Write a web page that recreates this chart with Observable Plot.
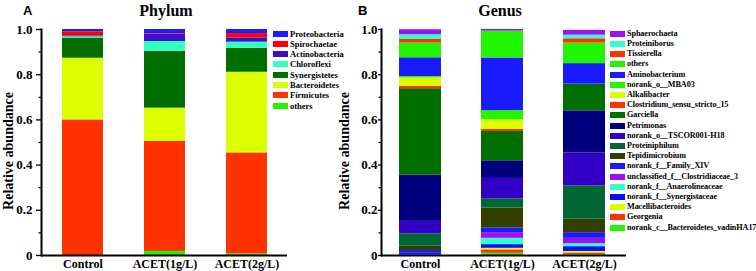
<!DOCTYPE html>
<html><head><meta charset="utf-8">
<script src="https://cdn.jsdelivr.net/npm/d3@7"></script>
<script src="https://cdn.jsdelivr.net/npm/@observablehq/plot@0.6"></script>
<style>
body{margin:0;background:#fff;}
#wrap{position:relative;width:756px;height:271px;overflow:hidden;font-family:"Liberation Serif","Times New Roman",serif;font-weight:bold;}
.abs{position:absolute;}
.title{font-size:16px;white-space:nowrap;transform:translateX(-50%);}
.letter{font-family:"Liberation Sans",Arial,sans-serif;font-size:13px;font-weight:bold;}
.ylab{font-size:14px;white-space:nowrap;transform:translate(-50%,-50%) rotate(-90deg);}
.leg{font-size:8.5px;white-space:nowrap;line-height:10px;display:flex;align-items:center;}
.legB{font-size:8.2px;letter-spacing:-0.1px;}
.sw{width:15px;height:6px;margin-right:2px;}
svg{background:transparent !important;}
</style></head>
<body><div id="wrap"></div>
<script>
const samples = ["Control", "ACET(1g/L)", "ACET(2g/L)"];
const yTicks = [0, 0.2, 0.4, 0.6, 0.8, 1.0];
const yMinor = [0.1, 0.3, 0.5, 0.7, 0.9];

const phylumTaxa = ["Proteobacteria","Spirochaetae","Actinobacteria","Chloroflexi","Synergistetes","Bacteroidetes","Firmicutes","others"];
const phylumColors = ["#1c1cff","#ff0000","#3b0fc6","#33ffc0","#006e00","#dcff00","#ff3300","#26f000"];
const phylumControl = [0.010,0.018,0.004,0.006,0.089,0.273,0.600,0.000];
const phylumACET1   = [0.018,0.003,0.032,0.043,0.252,0.146,0.488,0.018];
const phylumACET2   = [0.018,0.019,0.019,0.027,0.106,0.357,0.447,0.007];

const genusTaxa = ["Sphaerochaeta","Proteiniborus","Tissierella","others","Aminobacterium","norank_o__MBA03","Alkalibacter","Clostridium_sensu_stricto_15","Garciella","Petrimonas","norank_o__TSCOR001-H18","Proteiniphilum","Tepidimicrobium","norank_f__Family_XIV","unclassified_f__Clostridiaceae_3","norank_f__Anaerolineaceae","norank_f__Synergistaceae","Macellibacteroides","Georgenia","norank_c__Bacteroidetes_vadinHA17"];
const genusColors = ["#9b10f5","#33ffc8","#ff3300","#22f500","#1a1aff","#22f500","#dcff00","#ff3300","#006e00","#00007f","#3300c8","#006633","#333f00","#1a1aff","#9b10f5","#33ffc8","#0a0aff","#dcff00","#ff3300","#22f500"];
const genusControl = [0.022,0.021,0.016,0.065,0.083,0.006,0.038,0.010,0.383,0.204,0.055,0.055,0.019,0.012,0.000,0.000,0.008,0.000,0.000,0.002];
const genusACET1   = [0.007,0.000,0.000,0.119,0.233,0.040,0.043,0.009,0.130,0.078,0.090,0.041,0.088,0.021,0.025,0.028,0.016,0.007,0.015,0.010];
const genusACET2   = [0.021,0.016,0.019,0.091,0.091,0.000,0.000,0.000,0.118,0.186,0.146,0.147,0.060,0.025,0.024,0.013,0.021,0.007,0.007,0.004];

function rows(taxa, series) {
  const out = [];
  // stack bottom-to-top: last legend entry at the bottom
  for (let s = 0; s < samples.length; s++) {
    for (let i = taxa.length - 1; i >= 0; i--) {
      out.push({sample: samples[s], taxon: taxa[i], value: series[s][i]});
    }
  }
  return out;
}

const font = '"Liberation Serif","Times New Roman",serif';

function panel(taxa, colors, series, opts) {
  return Plot.plot({
    width: opts.width, height: 271,
    marginLeft: opts.ml, marginRight: opts.mr, marginTop: 29, marginBottom: 16,
    style: {fontFamily: font, fontWeight: "bold", background: "transparent", overflow: "visible"},
    x: {domain: samples, padding: opts.pi, paddingOuter: opts.po, align: opts.align, label: null},
    y: {domain: [0, 1], label: null},
    color: {domain: taxa, range: colors},
    marks: [
      Plot.barY(rows(taxa, series), {x: "sample", y: "value", fill: "taxon", z: "taxon", inset: 0}),
      Plot.axisY({ticks: yTicks, tickFormat: d => d === 0 ? "0" : d.toFixed(1), tickSize: opts.ts, tickPadding: opts.tp, fontSize: 13, strokeWidth: 1.3, label: null}),
      Plot.axisY({ticks: yMinor, tickSize: 2.5, text: null, label: null, strokeWidth: 1.2}),
      Plot.axisX({tickSize: 0, tickPadding: 4, fontSize: 12, label: null}),
      Plot.frame({anchor: "left", strokeWidth: 2}),
      Plot.ruleY([0], {strokeWidth: 2})
    ]
  });
}

const wrap = document.getElementById("wrap");

function place(el, left, top) {
  el.style.position = "absolute"; el.style.left = left + "px"; el.style.top = top + "px";
  wrap.appendChild(el);
}

const svgA = panel(phylumTaxa, phylumColors, [phylumControl, phylumACET1, phylumACET2],
  {width: 378, ml: 41, mr: 91, pi: 0.5, po: 0.25, align: 0.5, ts: 5, tp: 4});
place(svgA, 0, 0);
const svgB = panel(genusTaxa, genusColors, [genusControl, genusACET1, genusACET2],
  {width: 420, ml: 45, mr: 130, pi: 0.492, po: 0.227, align: 0.45, ts: 3, tp: 1});
place(svgB, 336, 0);

function html(cls, text, left, top) {
  const d = document.createElement("div");
  d.className = "abs " + cls; d.textContent = text;
  d.style.left = left + "px"; d.style.top = top + "px";
  wrap.appendChild(d); return d;
}
html("letter", "A", 23, 3);
html("letter", "B", 358, 3);
html("title", "Phylum", 166, 2);
html("title", "Genus", 500, 2);
html("ylab", "Relative abundance", 9, 151);
html("ylab", "Relative abundance", 345, 151);

function legend(taxa, colors, left, top, step, extra) {
  taxa.forEach((t, i) => {
    const d = document.createElement("div");
    d.className = "abs leg " + extra;
    d.style.left = left + "px"; d.style.top = (top + i * step - 5) + "px";
    const sw = document.createElement("span");
    sw.className = "sw"; sw.style.background = colors[i];
    const tx = document.createElement("span"); tx.textContent = t;
    d.appendChild(sw); d.appendChild(tx);
    wrap.appendChild(d);
  });
}
legend(phylumTaxa, phylumColors, 273, 33.5, 10.3, "");
legend(genusTaxa, genusColors, 610, 33.7, 10.2, "legB");
</script></body></html>
